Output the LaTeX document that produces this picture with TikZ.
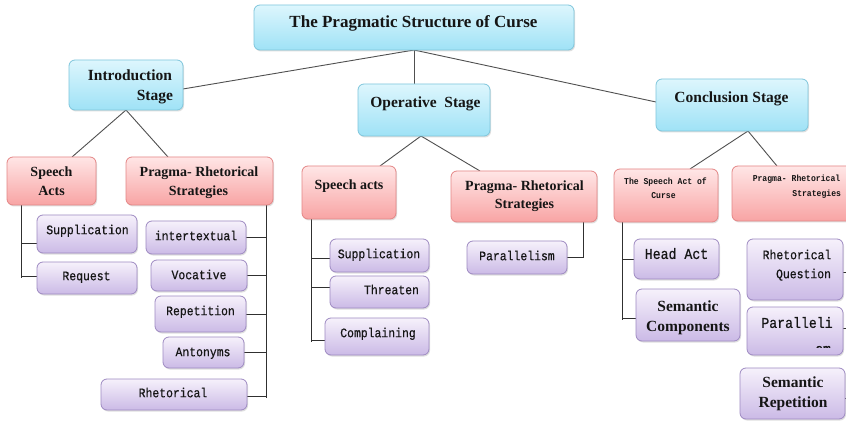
\documentclass[tikz,border=0pt]{standalone}
\usepackage{fontspec}
\setmainfont{Liberation Serif}
\newfontfamily\monof[FakeStretch=0.88,FakeBold=0.5]{Liberation Mono}
\newfontfamily\monobf[FakeStretch=0.9]{Liberation Mono Bold}
\usetikzlibrary{shadows}
\pgfdeclarelayer{bg}
\pgfsetlayers{bg,main}
\definecolor{blueT}{HTML}{DDF6FD}
\definecolor{blueBot}{HTML}{9FE2F6}
\definecolor{blueD}{HTML}{7FC6DC}
\definecolor{redT}{HTML}{FFE6E6}
\definecolor{redBot}{HTML}{F8A4A4}
\definecolor{redD}{HTML}{E48686}
\definecolor{purT}{HTML}{F6F1FB}
\definecolor{purBot}{HTML}{CBBAE6}
\definecolor{purD}{HTML}{9E8AC2}
\definecolor{txtC}{HTML}{151515}
\definecolor{lineC}{HTML}{505050}
\definecolor{lineB}{HTML}{303030}
\newcommand\bx[6]{\node[#6, minimum width={(#4-#2)*1pt}, minimum height={(#5-#3)*1pt}] (#1) at ({(#2+#4)/2},{(#3+#5)/2}) {};}
\tikzset{
  box/.style={rounded corners=6pt, inner sep=0pt, outer sep=0pt, line width=0.8pt,
    drop shadow={shadow xshift=1pt, shadow yshift=-1.5pt, opacity=0.25}},
  bluebox/.style={box, draw=blueD, top color=blueT, bottom color=blueBot},
  redbox/.style={box, draw=redD, top color=redT, bottom color=redBot},
  purbox/.style={box, draw=purD, top color=purT, bottom color=purBot},
  tx/.style={inner sep=0pt, outer sep=0pt, text=txtC, anchor=base},
  rootT/.style={tx, font=\bfseries\fontsize{17}{20}\selectfont, yshift=-5.6pt},
  hdT/.style={tx, font=\bfseries\fontsize{15.5}{18}\selectfont, yshift=-5pt},
  rdT/.style={tx, font=\bfseries\fontsize{14}{17}\selectfont, yshift=-4.6pt},
  mnT/.style={tx, font=\monof\fontsize{13}{16}\selectfont, yshift=-4.2pt},
  mnBT/.style={tx, font=\monof\fontsize{15}{18}\selectfont, yshift=-4.9pt},
  smT/.style={tx, font=\monobf\fontsize{9}{11}\selectfont, yshift=-3pt},
  conn/.style={draw=lineC, line width=0.9pt},
  br/.style={draw=lineB, line width=0.9pt},
}
\begin{document}
\begin{tikzpicture}[x=1pt,y=-1pt]
\path[use as bounding box] (0,0) rectangle (846,422);
\clip (0,0) rectangle (846,422);
% top level
\bx{root}{254}{5}{574}{50}{bluebox}
\bx{intro}{69}{60}{183}{110}{bluebox}
\bx{oper}{358}{84}{490}{136}{bluebox}
\bx{concl}{656}{79}{808}{131}{bluebox}
% introduction stage
\bx{sa1}{7}{157}{96}{205}{redbox}
\bx{pr1}{126}{157}{273}{205}{redbox}
\bx{su1}{37}{215}{137}{253}{purbox}
\bx{rq1}{37}{262}{137}{294}{purbox}
\bx{it1}{146}{221}{246}{254}{purbox}
\bx{vo1}{151}{260}{247}{291}{purbox}
\bx{re1}{155}{296}{246}{332}{purbox}
\bx{an1}{163}{337}{244}{368}{purbox}
\bx{rh1}{101}{379}{247}{410}{purbox}
% operative stage
\bx{sa2}{302}{166}{396}{219}{redbox}
\bx{pr2}{451}{171}{597}{222}{redbox}
\bx{su2}{330}{239}{429}{272}{purbox}
\bx{th2}{330}{276}{429}{308}{purbox}
\bx{co2}{325}{318}{429}{355}{purbox}
\bx{pa2}{467}{241}{567}{274}{purbox}
% conclusion stage
\bx{sa3}{614}{169}{718}{222}{redbox}
\bx{pr3}{732}{166}{860}{221}{redbox}
\bx{ha3}{634}{239}{719}{279}{purbox}
\bx{sc3}{636}{289}{740}{341}{purbox}
\bx{rq3}{747}{239}{843}{300}{purbox}
\bx{pl3}{747}{307}{843}{355}{purbox}
\bx{sr3}{740}{368}{845}{419}{purbox}
% texts
\node[rootT] (rootL) at (413.5,22) {The Pragmatic Structure of Curse};
\node[hdT, anchor=base east] (introL1) at (172,76) {Introduction};
\node[hdT, anchor=base east] (introL2) at (173,96) {Stage};
\node[hdT] (operL) at (425.5,103) {Operative\ \ Stage};
\node[hdT] (conclL) at (731.5,98) {Conclusion Stage};
\node[rdT] (sa1L1) at (51.5,172) {Speech};
\node[rdT] (sa1L2) at (51.5,191) {Acts};
\node[rdT] (pr1L1) at (199,172) {Pragma- Rhetorical};
\node[rdT] (pr1L2) at (198.5,191) {Strategies};
\node[mnT] (su1L) at (87.5,230) {Supplication};
\node[mnT] (rq1L) at (86.5,276) {Request};
\node[mnT] (it1L) at (196,236) {intertextual};
\node[mnT] (vo1L) at (199,275) {Vocative};
\node[mnT] (re1L) at (200.5,311) {Repetition};
\node[mnT] (an1L) at (203,352) {Antonyms};
\node[mnT] (rh1L) at (173,393) {Rhetorical};
\node[rdT] (sa2L) at (349,185) {Speech acts};
\node[rdT] (pr2L1) at (524.5,186) {Pragma- Rhetorical};
\node[rdT] (pr2L2) at (524.5,204) {Strategies};
\node[mnT] (su2L) at (379,254) {Supplication};
\node[mnT] (th2L) at (391.5,290) {Threaten};
\node[mnT] (co2L) at (378,333) {Complaining};
\node[mnT] (pa2L) at (517,256) {Parallelism};
\node[smT] (sa3L1) at (665.5,182) {The Speech Act of};
\node[smT] (sa3L2) at (663.5,196) {Curse};
\node[smT] (pr3L1) at (796.5,179) {Pragma- Rhetorical};
\node[smT, anchor=base east] (pr3L2) at (841,194) {Strategies};
\node[mnBT] (ha3L) at (676.5,254) {Head Act};
\node[hdT] (sc3L1) at (688,306) {Semantic};
\node[hdT] (sc3L2) at (688,326) {Components};
\node[mnT] (rq3L1) at (797,255) {Rhetorical};
\node[mnT, anchor=base east] (rq3L2) at (831,274) {Question};
\node[mnBT] (pl3L1) at (797,323) {Paralleli};
\begin{scope}
\clip (747,300) rectangle (843,347);
\node[mnBT, anchor=base east, yshift=4.9pt] (pl3L2) at (831,354) {sm};
\end{scope}
\node[hdT] (sr3L1) at (793,382) {Semantic};
\node[hdT] (sr3L2) at (793,402) {Repetition};
% bracket end points
\coordinate (b1) at (21,278);
\coordinate (b2) at (266,398);
\coordinate (b3) at (311,342);
\coordinate (b4) at (622,320);
\coordinate (b5) at (852,400);
\begin{pgfonlayer}{bg}
\fill[white] (0,0) rectangle (846,422);
% tree connectors
\draw[conn] (root.south) -- ([yshift=-4pt]intro.east);
\draw[conn] (root.south) -- (root.south |- oper.north);
\draw[conn] (root.south) -- ([yshift=3pt]concl.west);
\draw[conn] (intro.south) -- ([xshift=20.5pt]sa1.north);
\draw[conn] (intro.south) -- ([xshift=-31.5pt]pr1.north);
\draw[conn] ([xshift=-3pt]oper.south) -- ([xshift=31pt]sa2.north);
\draw[conn] ([xshift=-3pt]oper.south) -- ([xshift=-44pt]pr2.north);
\draw[conn] ([xshift=16pt]concl.south) -- ([xshift=24pt]sa3.north);
\draw[conn] ([xshift=16pt]concl.south) -- ([xshift=-19pt]pr3.north);
% brackets, introduction
\draw[br] ([xshift=14pt]sa1.south west) -- (b1);
\draw[br] ([yshift=-9pt]su1.west) -- ([yshift=-9pt]su1.west -| b1);
\draw[br] ([yshift=2pt]rq1.west) -- ([yshift=2pt]rq1.west -| b1);
\draw[br] ([xshift=-7pt]pr1.south east) -- (b2);
\draw[br] (it1.east) -- (it1.east -| b2);
\draw[br] (vo1.east) -- (vo1.east -| b2);
\draw[br] (re1.east) -- (re1.east -| b2);
\draw[br] (an1.east) -- (an1.east -| b2);
\draw[br] ([yshift=-1.5pt]rh1.east) -- ([yshift=-1.5pt]rh1.east -| b2);
% brackets, operative
\draw[br] ([xshift=9pt]sa2.south west) -- (b3);
\draw[br] ([yshift=-2.5pt]su2.west) -- ([yshift=-2.5pt]su2.west -| b3);
\draw[br] ([yshift=5pt]th2.west) -- ([yshift=5pt]th2.west -| b3);
\draw[br] ([yshift=-3.5pt]co2.west) -- ([yshift=-3.5pt]co2.west -| b3);
\draw[br] ([xshift=-14pt]pr2.south east) |- (pa2.east);
% brackets, conclusion
\draw[br] ([xshift=8pt]sa3.south west) -- (b4);
\draw[br] (ha3.west) -- (ha3.west -| b4);
\draw[br] ([yshift=-3pt]sc3.west) -- ([yshift=-3pt]sc3.west -| b4);
\draw[br] ([xshift=-8pt]pr3.south east) -- (b5);
\draw[br] ([yshift=-2.5pt]rq3.east) -- ([yshift=-2.5pt]rq3.east -| b5);
\draw[br] ([yshift=3pt]pl3.east) -- ([yshift=3pt]pl3.east -| b5);
\draw[br] ([yshift=-4.5pt]sr3.east) -- ([yshift=-4.5pt]sr3.east -| b5);
\end{pgfonlayer}
\end{tikzpicture}
\end{document}
